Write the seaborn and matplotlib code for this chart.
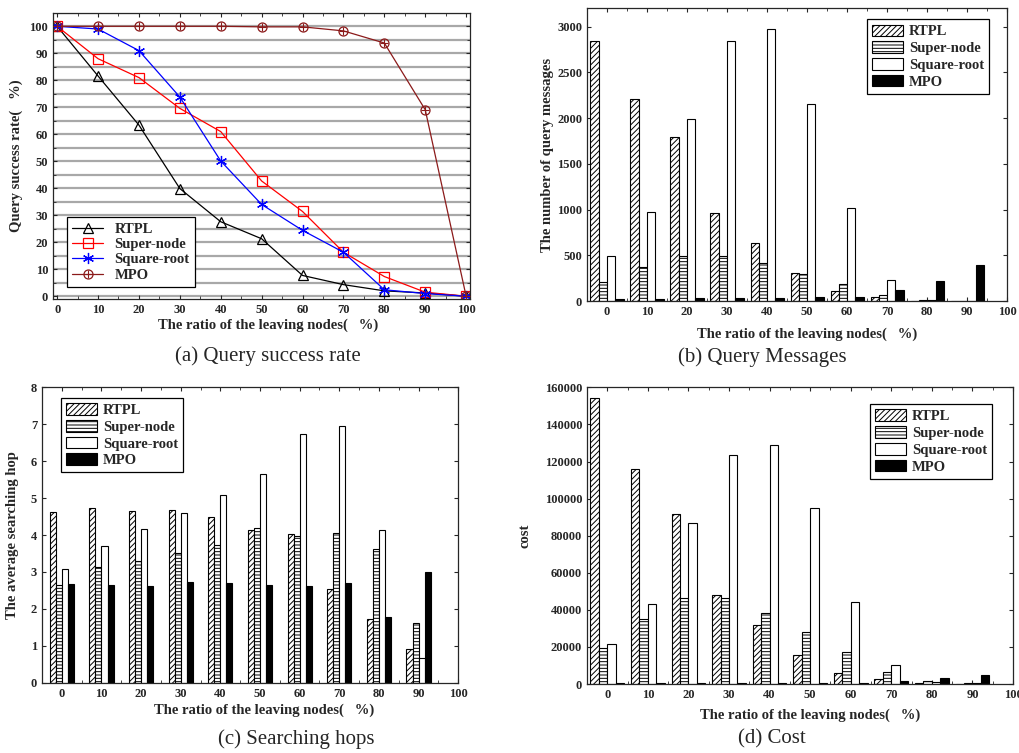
import numpy as np
import pandas as pd
import matplotlib
matplotlib.use('Agg')
import matplotlib.pyplot as plt
from matplotlib.lines import Line2D
from matplotlib.legend_handler import HandlerTuple
import seaborn as sns

# ---- data ----
methods = ['RTPL', 'Super-node', 'Square-root', 'MPO']

# (a) query success rate (%)
ratio_line = [0, 10, 20, 30, 40, 50, 60, 70, 80, 90, 100]
rate_rtpl = [100, 81.6, 63.4, 39.9, 27.6, 21.3, 7.7, 4.3, 2.0, 1.2, 0]
rate_super = [100, 88.0, 81.0, 69.6, 61.0, 42.7, 31.4, 16.3, 7.3, 1.5, 0]
rate_sqrt = [100, 99.0, 91.0, 73.8, 50.1, 34.0, 24.4, 16.3, 2.4, 1.0, 0]
rate_mpo = [100, 100, 100, 100, 100, 99.8, 99.8, 98.3, 93.8, 69.1, 0]

# bar charts share the same x values
ratio_bar = [0, 10, 20, 30, 40, 50, 60, 70, 80, 90]

# (b) number of query messages
msg_rtpl = [2839, 2210, 1790, 965, 632, 307, 106, 48, 7, 3]
msg_super = [208, 376, 493, 493, 413, 296, 183, 66, 15, 3]
msg_sqrt = [493, 976, 1991, 2839, 2970, 2156, 1016, 227, 18, 2]
msg_mpo = [29, 29, 36, 36, 40, 48, 51, 124, 223, 395]

# (c) average searching hop
hop_rtpl = [4.61, 4.73, 4.66, 4.67, 4.49, 4.13, 4.04, 2.53, 1.74, 0.92]
hop_super = [2.65, 3.14, 3.30, 3.51, 3.72, 4.20, 3.96, 4.05, 3.62, 1.62]
hop_sqrt = [3.07, 3.69, 4.16, 4.60, 5.08, 5.64, 6.74, 6.94, 4.13, 0.68]
hop_mpo = [2.67, 2.65, 2.62, 2.73, 2.71, 2.64, 2.62, 2.70, 1.77, 3.01]

# (d) cost
cost_rtpl = [154000, 115800, 91700, 47800, 31800, 15800, 5900, 2700, 500, 200]
cost_super = [19600, 35200, 46400, 46400, 38300, 27900, 17300, 6500, 1800, 300]
cost_sqrt = [21750, 43000, 86700, 123500, 129100, 95100, 44000, 10100, 900, 300]
cost_mpo = [400, 400, 400, 400, 500, 700, 800, 1800, 3060, 4900]

sns.set_style('ticks')
plt.rcParams['font.family'] = ['Liberation Serif', 'DejaVu Serif']
plt.rcParams['font.weight'] = 'bold'
plt.rcParams['axes.labelweight'] = 'bold'
plt.rcParams['hatch.linewidth'] = 0.7
plt.rcParams['axes.linewidth'] = 0.9

XLABEL = 'The ratio of the leaving nodes(   %)'
TICK_FS = 9
LABEL_FS = 10.5
LEG_FS = 10.5
MPO_RED = '#8b1a1a'

fig = plt.figure(figsize=(10.2, 7.53), dpi=100)


def style_axis(ax):
    ax.tick_params(direction='in', top=True, right=True, labeltop=False,
                   labelright=False, labelsize=TICK_FS, length=3, width=0.8)
    ax.tick_params(which='minor', direction='in', top=True, right=True,
                   length=2, width=0.6)
    for lab in ax.get_xticklabels() + ax.get_yticklabels():
        lab.set_fontweight('bold')


leg_prop = {'family': 'Liberation Serif', 'weight': 'bold', 'size': LEG_FS}

# ---------- (a) line chart ----------
ax_a = fig.add_axes([0.052, 0.603, 0.409, 0.380])
line_series = [
    ('RTPL', rate_rtpl, 'black', '^', 7),
    ('Super-node', rate_super, 'red', 's', 6.5),
    ('Square-root', rate_sqrt, 'blue', (6, 2, 0), 8),
    ('MPO', rate_mpo, MPO_RED, 'o', 6.5),
]
for y5 in np.arange(0, 106, 5):
    ax_a.axhline(y5, color='#a8a8a8', lw=1.6, zorder=0)
handles = []
for name, vals, col, mk, ms in line_series:
    sns.lineplot(x=ratio_line, y=vals, ax=ax_a, color=col, marker=mk, ms=ms,
                 mfc='none', mec=col, mew=0.9, lw=0.9, legend=False)
    handles.append(Line2D([], [], color=col, marker=mk, ms=ms, mfc='none',
                          mec=col, mew=0.9, lw=0.9))
# cross inside the MPO circles
sns.scatterplot(x=ratio_line, y=rate_mpo, ax=ax_a, marker='+', s=38,
                color=MPO_RED, linewidth=0.8, legend=False, zorder=5)
handles[3] = (handles[3], Line2D([], [], color=MPO_RED, marker='+', ms=6.2,
                                 mew=0.8, lw=0))
ax_a.set_xlim(-1, 101)
ax_a.set_ylim(-1, 105)
ax_a.set_xticks(np.arange(0, 101, 10))
ax_a.set_yticks(np.arange(0, 101, 10))
ax_a.set_xticks(np.arange(5, 100, 10), minor=True)
ax_a.set_yticks(np.arange(5, 100, 10), minor=True)
ax_a.set_xlabel(XLABEL, fontsize=LABEL_FS)
ax_a.set_ylabel('Query success rate(   %)', fontsize=LABEL_FS)
ax_a.xaxis.set_label_coords(0.516, -0.07)
ax_a.yaxis.set_label_coords(-0.072, 0.5)
style_axis(ax_a)
leg = ax_a.legend(handles, methods, loc='lower left',
                  bbox_to_anchor=(0.034, 0.042), borderaxespad=0,
                  fancybox=False, edgecolor='black', framealpha=1,
                  handlelength=2.1, labelspacing=0.15, borderpad=0.35,
                  handler_map={tuple: HandlerTuple(ndivide=1, pad=0)},
                  prop=leg_prop)
leg.get_frame().set_linewidth(0.9)


# ---------- bar charts ----------
hatches = ['//////', '-----', '', '']
palette = ['white', 'white', 'white', 'black']


def bar_panel(rect, series, width, ylim, yticks, ylabel, ylab_x, xlab_xy,
              leg_loc, leg_anchor):
    ax = fig.add_axes(rect)
    df = pd.DataFrame({
        'ratio': np.tile(ratio_bar, len(methods)),
        'value': np.concatenate(series),
        'method': np.repeat(methods, len(ratio_bar)),
    })
    sns.barplot(data=df, x='ratio', y='value', hue='method', hue_order=methods,
                palette=palette, native_scale=True, width=width,
                edgecolor='black', linewidth=0.8, ax=ax, legend=False)
    for cont, h in zip(ax.containers, hatches):
        for p in cont:
            p.set_hatch(h)
    ax.set_xlim(-5, 100)
    ax.set_ylim(*ylim)
    ax.set_xticks(np.arange(0, 101, 10))
    ax.set_xticks(np.arange(5, 100, 10), minor=True)
    ax.set_yticks(yticks)
    ax.set_xlabel(XLABEL, fontsize=LABEL_FS)
    ax.set_ylabel(ylabel, fontsize=LABEL_FS)
    ax.xaxis.set_label_coords(*xlab_xy)
    ax.yaxis.set_label_coords(ylab_x, 0.5)
    style_axis(ax)
    lg = ax.legend(ax.containers, methods, loc=leg_loc, bbox_to_anchor=leg_anchor,
                   borderaxespad=0, fancybox=False, edgecolor='black',
                   framealpha=1, handlelength=2.1, handleheight=0.85,
                   labelspacing=0.2, borderpad=0.35, handletextpad=0.4,
                   prop=leg_prop)
    lg.get_frame().set_linewidth(0.9)
    return ax


bar_panel([0.5755, 0.600, 0.412, 0.389],
          [msg_rtpl, msg_super, msg_sqrt, msg_mpo], 0.83,
          (0, 3200), np.arange(0, 3001, 500), 'The number of query messages',
          -0.079, (0.524, -0.089), 'upper right', (0.957, 0.962))

bar_panel([0.0412, 0.093, 0.408, 0.393],
          [hop_rtpl, hop_super, hop_sqrt, hop_mpo], 0.61,
          (0, 8), np.arange(0, 9, 1), 'The average searching hop',
          -0.055, (0.534, -0.068), 'upper left', (0.046, 0.963))

bar_panel([0.5755, 0.0916, 0.4176, 0.394],
          [cost_rtpl, cost_super, cost_sqrt, cost_mpo], 0.83,
          (0, 160000), np.arange(0, 160001, 20000), 'cost',
          -0.131, (0.523, -0.081), 'upper right', (0.951, 0.943))

# captions under each panel
cap_kw = dict(ha='center', va='center', fontsize=15, fontweight='normal',
              family='Liberation Serif')
fig.text(268 / 1020, 1 - 356 / 753, '(a) Query success rate', **cap_kw)
fig.text(762 / 1020, 1 - 357 / 753, '(b) Query Messages', **cap_kw)
fig.text(296 / 1020, 1 - 739 / 753, '(c) Searching hops', **cap_kw)
fig.text(772 / 1020, 1 - 739 / 753, '(d) Cost', **cap_kw)

fig.savefig('out.png', dpi=100)
